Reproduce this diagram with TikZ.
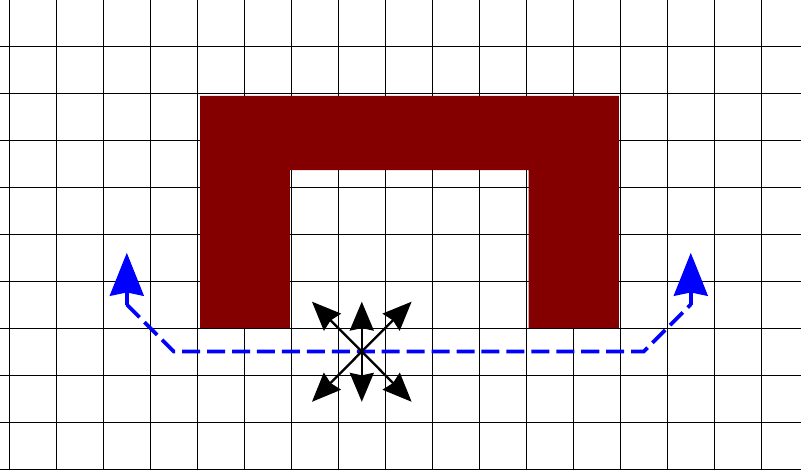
\documentclass[tikz,border=0pt]{standalone}
\usetikzlibrary{arrows.meta}
\definecolor{shapered}{RGB}{132,0,0}
\definecolor{pathblue}{RGB}{0,0,255}
\tikzset{
  gridline/.style={line width=0.5pt, black},
  blockfill/.style={fill=shapered, draw=none},
  bluepath/.style={pathblue, line width=2.2pt, dash pattern=on 10.9pt off 4.2pt},
  bluetip/.style={-{Stealth[length=26pt,width=20.5pt,inset=2pt]}, pathblue, line width=2.2pt},
  blackarrow/.style={-{Stealth[length=17.5pt,width=14.5pt,inset=1.5pt]}, black, line width=1.4pt}
}
\begin{document}
\begin{tikzpicture}
\useasboundingbox (-0.198,0) rectangle (16.845,9.979);
\draw[gridline] (-0.5,0) grid (16.9,10);
\fill[blockfill] (4.06,3) -- (4.06,7.94) -- (12.97,7.94) -- (12.97,3) -- (11.05,3) -- (11.05,6.36) -- (5.97,6.36) -- (5.97,3) -- cycle;
\coordinate (ls) at (2.5,3.5);
\coordinate (lt) at (2.5,4.6);
\coordinate (lb) at (3.5,2.5);
\coordinate (rb) at (13.5,2.5);
\coordinate (rs) at (14.5,3.5);
\coordinate (rt) at (14.5,4.6);
\draw[bluepath] (ls) -- (lb) -- (rb) -- (rs);
\draw[bluetip] (ls) -- (lt);
\draw[bluetip] (rs) -- (rt);
\coordinate (c) at (7.5,2.5);
\foreach \dx/\dy in {0/1.06, 0/-1.07, 1.06/1.06, -1.06/1.06, 1.06/-1.07, -1.06/-1.07}{
  \draw[blackarrow] (c) -- ++(\dx,\dy);
}
\end{tikzpicture}
\end{document}
